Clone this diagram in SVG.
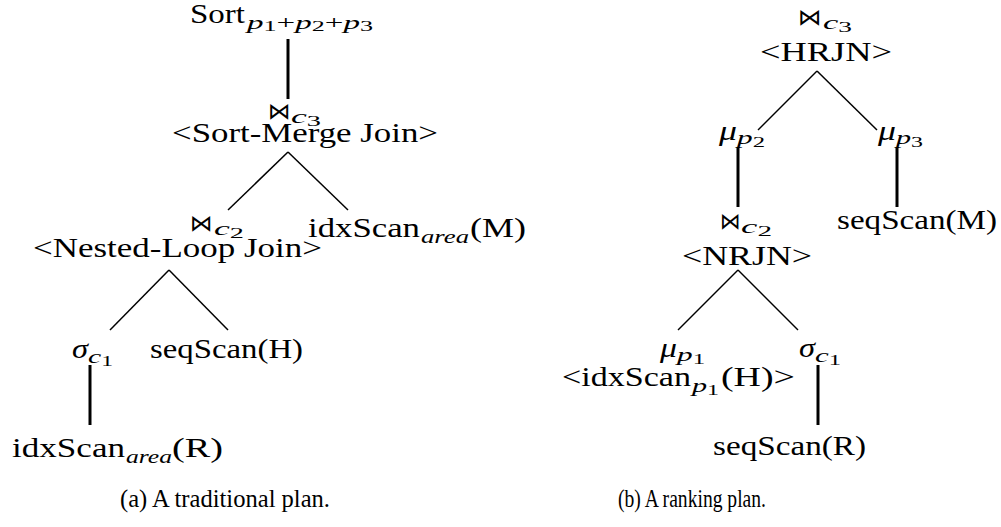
<svg xmlns="http://www.w3.org/2000/svg" width="1001" height="527" viewBox="0 0 1001 527">
<style>
text { fill: #000; }
.m { font-family: "Liberation Serif", serif; font-size: 27px; }
.gk { font-family: "Liberation Serif", serif; font-size: 27px; font-style: italic; }
.i { font-family: "Liberation Serif", serif; font-size: 19px; font-style: italic; }
.d { font-style: normal; font-size: 15px; }
.r { font-style: normal; }
.j { font-family: "DejaVu Sans", sans-serif; font-size: 23px; }
.cap { font-family: "Liberation Serif", serif; font-size: 26px; }
.thin { stroke: #000; stroke-width: 1.5; fill: none; }
.thick { stroke: #000; stroke-width: 3; fill: none; }
</style>
<rect width="1001" height="527" fill="#fff"/>

<g id="connectors">
  <line class="thick" x1="288" y1="39" x2="288" y2="99"/>
  <line class="thin" x1="288" y1="152" x2="228" y2="210"/>
  <line class="thin" x1="288" y1="152" x2="348" y2="210"/>
  <line class="thin" x1="169" y1="270" x2="110" y2="330"/>
  <line class="thin" x1="169" y1="270" x2="228" y2="330"/>
  <line class="thick" x1="90" y1="365" x2="90" y2="425"/>
  <line class="thin" x1="817" y1="71" x2="758" y2="130"/>
  <line class="thin" x1="817" y1="71" x2="877" y2="130"/>
  <line class="thick" x1="738" y1="147" x2="738" y2="207"/>
  <line class="thick" x1="897" y1="147" x2="897" y2="207"/>
  <line class="thin" x1="738" y1="270" x2="678" y2="330"/>
  <line class="thin" x1="738" y1="270" x2="798" y2="330"/>
  <line class="thick" x1="818" y1="365" x2="818" y2="425"/>
</g>

<!-- (a) traditional plan -->
<g id="a-sort">
  <text class="m" x="190" y="23" textLength="55" lengthAdjust="spacingAndGlyphs">Sort</text>
  <text class="i" x="247" y="29" textLength="126" lengthAdjust="spacingAndGlyphs">p<tspan class="d" dy="2">1</tspan><tspan class="r" dy="-2">+</tspan>p<tspan class="d" dy="2">2</tspan><tspan class="r" dy="-2">+</tspan>p<tspan class="d" dy="2">3</tspan></text>
</g>
<g id="a-smj">
  <text class="j" x="268" y="119" textLength="23" lengthAdjust="spacingAndGlyphs">⋈</text>
  <text class="i" x="291" y="123" textLength="30" lengthAdjust="spacingAndGlyphs">c<tspan class="d" dy="3">3</tspan></text>
  <text class="m" x="172" y="142" textLength="266" lengthAdjust="spacingAndGlyphs">&lt;Sort-Merge Join&gt;</text>
</g>
<g id="a-nlj">
  <text class="j" x="190" y="231" textLength="23" lengthAdjust="spacingAndGlyphs">⋈</text>
  <text class="i" x="214" y="235" textLength="30" lengthAdjust="spacingAndGlyphs">c<tspan class="d" dy="3">2</tspan></text>
  <text class="m" x="33" y="257" textLength="289" lengthAdjust="spacingAndGlyphs">&lt;Nested-Loop Join&gt;</text>
</g>
<g id="a-idxM">
  <text class="m" x="308" y="237" textLength="112" lengthAdjust="spacingAndGlyphs">idxScan</text>
  <text class="i" x="421" y="243" textLength="48" lengthAdjust="spacingAndGlyphs">area</text>
  <text class="m" x="470" y="237" textLength="56" lengthAdjust="spacingAndGlyphs">(M)</text>
</g>
<g id="a-sigma">
  <text class="gk" x="72" y="358" textLength="16" lengthAdjust="spacingAndGlyphs">σ</text>
  <text class="i" x="88" y="363" textLength="25" lengthAdjust="spacingAndGlyphs">c<tspan class="d" dy="3">1</tspan></text>
</g>
<g id="a-seqH">
  <text class="m" x="150" y="358" textLength="153" lengthAdjust="spacingAndGlyphs">seqScan(H)</text>
</g>
<g id="a-idxR">
  <text class="m" x="12" y="457" textLength="113" lengthAdjust="spacingAndGlyphs">idxScan</text>
  <text class="i" x="126" y="463" textLength="46" lengthAdjust="spacingAndGlyphs">area</text>
  <text class="m" x="172" y="457" textLength="51" lengthAdjust="spacingAndGlyphs">(R)</text>
</g>
<g id="a-caption">
  <text class="cap" x="120" y="507" textLength="210" lengthAdjust="spacingAndGlyphs">(a) A traditional plan.</text>
</g>

<!-- (b) ranking plan -->
<g id="b-hrjn">
  <text class="j" x="798" y="25" textLength="24" lengthAdjust="spacingAndGlyphs">⋈</text>
  <text class="i" x="823" y="29" textLength="29" lengthAdjust="spacingAndGlyphs">c<tspan class="d" dy="3">3</tspan></text>
  <text class="m" x="760" y="61" textLength="132" lengthAdjust="spacingAndGlyphs">&lt;HRJN&gt;</text>
</g>
<g id="b-mu2">
  <text class="gk" x="719" y="140" textLength="18" lengthAdjust="spacingAndGlyphs">μ</text>
  <text class="i" x="737" y="144" textLength="28" lengthAdjust="spacingAndGlyphs">p<tspan class="d" dy="3">2</tspan></text>
</g>
<g id="b-mu3">
  <text class="gk" x="878" y="140" textLength="18" lengthAdjust="spacingAndGlyphs">μ</text>
  <text class="i" x="896" y="144" textLength="27" lengthAdjust="spacingAndGlyphs">p<tspan class="d" dy="3">3</tspan></text>
</g>
<g id="b-nrjn">
  <text class="j" x="720" y="229" textLength="21" lengthAdjust="spacingAndGlyphs">⋈</text>
  <text class="i" x="741" y="233" textLength="31" lengthAdjust="spacingAndGlyphs">c<tspan class="d" dy="3">2</tspan></text>
  <text class="m" x="682" y="265" textLength="130" lengthAdjust="spacingAndGlyphs">&lt;NRJN&gt;</text>
</g>
<g id="b-seqM">
  <text class="m" x="837" y="229" textLength="160" lengthAdjust="spacingAndGlyphs">seqScan(M)</text>
</g>
<g id="b-mu1">
  <text class="gk" x="660" y="357" textLength="17" lengthAdjust="spacingAndGlyphs">μ</text>
  <text class="i" x="677" y="361" textLength="28" lengthAdjust="spacingAndGlyphs">p<tspan class="d" dy="3">1</tspan></text>
  <text class="m" x="562" y="386" textLength="129" lengthAdjust="spacingAndGlyphs">&lt;idxScan</text>
  <text class="i" x="692" y="392" textLength="27" lengthAdjust="spacingAndGlyphs">p<tspan class="d" dy="3">1</tspan></text>
  <text class="m" x="721" y="386" textLength="74" lengthAdjust="spacingAndGlyphs">(H)&gt;</text>
</g>
<g id="b-sigma">
  <text class="gk" x="799" y="357" textLength="16" lengthAdjust="spacingAndGlyphs">σ</text>
  <text class="i" x="815" y="362" textLength="26" lengthAdjust="spacingAndGlyphs">c<tspan class="d" dy="3">1</tspan></text>
</g>
<g id="b-seqR">
  <text class="m" x="713" y="455" textLength="153" lengthAdjust="spacingAndGlyphs">seqScan(R)</text>
</g>
<g id="b-caption">
  <text class="cap" x="618" y="507" textLength="148" lengthAdjust="spacingAndGlyphs">(b) A ranking plan.</text>
</g>
</svg>
